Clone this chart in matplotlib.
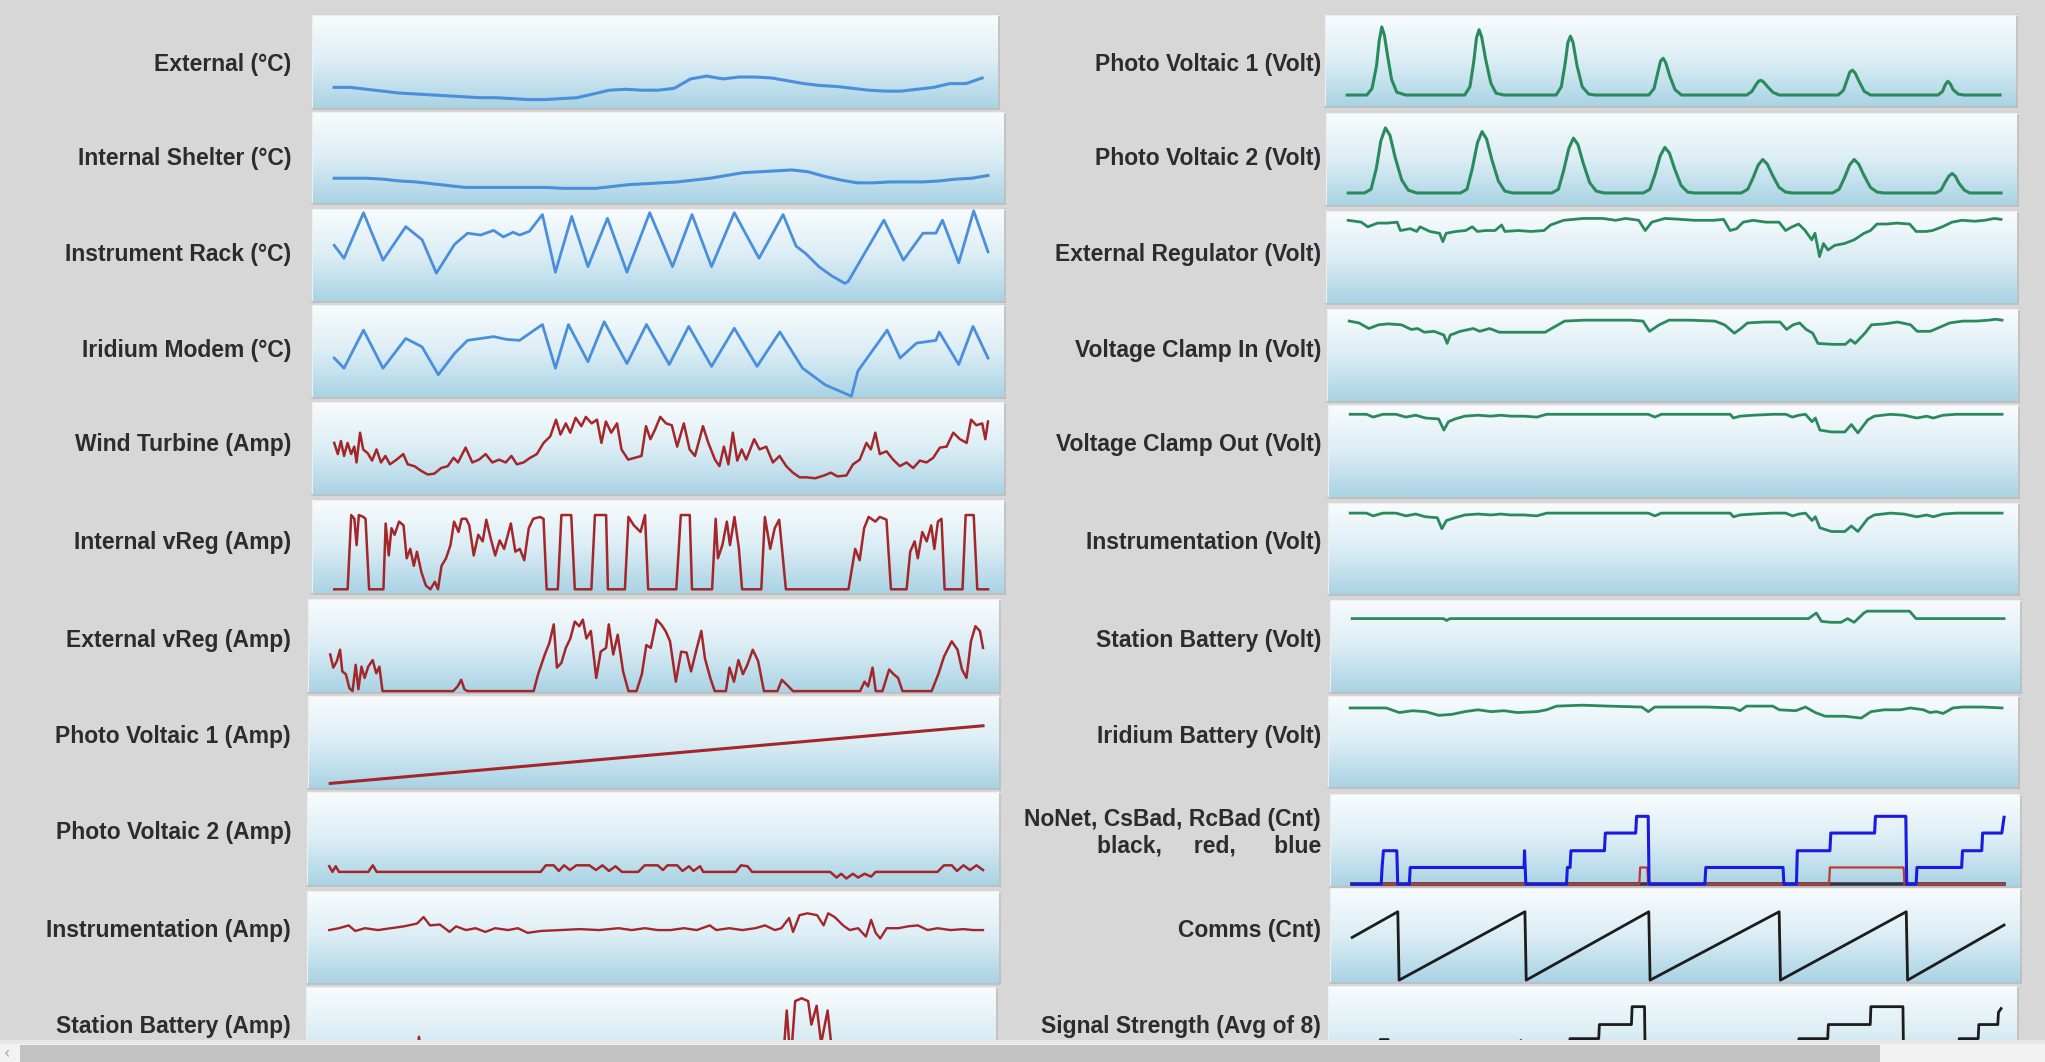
import numpy as np
import matplotlib
matplotlib.use("Agg")
import matplotlib.pyplot as plt
from matplotlib.patches import Rectangle

# ---------------- data (values in % of each sparkline's height) ----------------
ext_temp = [23,23,21,19,17,16,15,14,13,12,12,11,10,10,11,12,16,20,21,20,20,22,32,35,32,
            34,34,33,30,27,25,24,22,20,19,19,21,23,27,27,33]
shelter_temp = [28,28,28,27,25,24,22,20,18,18,18,18,18,18,17,17,17,19,21,22,23,24,26,28,31,
                34,35,36,37,35,30,26,23,23,24,24,24,25,27,28,31]

rack_t = [515,530,560,590,625,650,672,700,720,740,760,775,790,800,815,835,855,880,905,935,965,
          1000,1035,1065,1095,1130,1168,1205,1225,1240,1260,1280,1300,1305,1360,1390,1420,1440,
          1450,1475,1498,1520]
rack_v = [61,47,96,45,81,67,31,62,74,72,77,70,75,72,76,94,32,92,38,90,32,96,38,94,38,96,47,94,60,
          52,38,28,20,22,88,45,74,74,88,42,98,54]

modem_t = [515,530,560,590,625,650,675,700,720,740,760,780,800,835,855,875,905,930,965,995,1030,
           1060,1095,1130,1165,1200,1235,1270,1310,1320,1365,1385,1410,1440,1445,1475,1497,1520]
modem_v = [43,32,73,32,64,55,25,48,62,64,66,63,62,79,32,79,39,82,37,79,36,77,34,75,34,71,32,14,2,
           29,73,43,59,62,71,36,77,43]

wind_t = [50,58,65,72,80,88,95,100,108,115,125,135,145,155,165,175,190,205,215,230,245,260,275,
          290,305,318,328,345,360,375,390,405,420,435,448,460,475,490,505,520,535,548,558,570,580,
          592,605,615,628,640,650,660,672,685,695,710,725,740,750,760,770,782,795,808,820,835,848,
          860,878,890,905,915,925,935,945,955,965,975,993,1005,1020,1035,1050,1065,1080,1095,1110,
          1130,1150,1165,1180,1200,1215,1230,1245,1255,1265,1275,1290,1305,1320,1335,1350,1365,
          1380,1395,1410,1425,1440,1455,1470,1480,1492,1505,1512,1518]
wind_v = [56,44,58,42,56,44,52,35,67,49,45,37,49,35,42,33,38,44,33,31,26,22,23,29,31,40,35,51,35,
          38,44,35,38,35,42,33,35,40,44,56,63,81,65,77,67,83,74,84,77,81,56,79,67,77,49,38,40,42,74,
          60,70,84,77,75,52,77,49,42,74,56,38,31,52,33,67,37,49,38,60,49,52,35,42,31,24,19,19,18,21,
          24,20,21,33,38,56,49,67,44,47,38,31,35,29,37,35,40,51,52,67,60,56,81,75,77,60,79]

ivreg_t = [50,80,88,95,100,105,115,120,128,160,165,172,178,185,195,205,212,220,228,235,245,255,265,
           275,282,290,300,310,318,328,335,345,352,362,372,382,390,400,410,420,430,445,455,465,475,
           485,495,510,518,525,550,558,580,588,625,633,658,662,700,708,720,735,745,752,815,825,845,
           850,895,903,908,918,928,935,945,955,962,1005,1013,1025,1035,1045,1052,1060,1200,1215,
           1225,1235,1245,1260,1270,1285,1295,1330,1338,1348,1355,1365,1375,1385,1392,1400,1408,
           1415,1455,1462,1480,1488,1512]
ivreg_v = [5,5,84,80,52,84,82,80,5,5,75,41,70,63,77,73,38,48,30,45,23,9,5,13,5,30,38,52,77,66,80,
           80,73,41,63,56,79,59,41,57,48,75,45,48,36,70,80,82,80,5,5,84,84,5,5,84,84,5,5,82,73,66,84,
           5,5,84,84,5,5,80,38,52,77,52,82,48,5,5,82,48,70,79,45,5,5,48,36,70,82,77,82,79,5,5,45,56,
           38,66,56,73,48,77,80,5,5,84,84,5,5]

evreg_t = [55,62,70,77,82,90,98,105,112,118,125,132,140,150,158,165,172,330,340,348,355,362,510,520,
           535,545,555,562,572,582,592,602,612,620,628,638,650,660,672,678,688,698,710,722,740,752,
           762,772,785,795,805,815,828,840,852,862,875,885,893,905,915,940,948,958,968,978,988,1000,
           1012,1025,1055,1065,1080,1090,1240,1250,1258,1268,1275,1290,1305,1315,1325,1335,1400,
           1415,1428,1445,1458,1468,1478,1488,1498,1508,1515]
evreg_v = [41,27,34,46,23,20,5,2,30,4,28,16,28,35,21,28,2,2,7,14,4,2,2,20,41,53,73,27,32,48,58,76,71,
           78,58,66,16,44,48,73,41,62,23,2,2,20,51,48,78,73,66,55,12,44,43,23,48,66,37,16,2,2,27,12,35,
           20,30,46,34,2,2,14,7,2,2,12,7,27,2,2,25,20,16,2,2,20,39,55,46,25,16,55,71,66,48]

pv1_amp = [6, 68]

pv2a_t = [505,510,515,520,565,572,578,830,838,850,858,866,875,885,905,915,925,935,945,955,980,990,
          1010,1018,1025,1040,1048,1058,1065,1075,1080,1130,1138,1148,1155,1275,1285,1292,1300,
          1310,1318,1328,1338,1345,1440,1450,1462,1470,1480,1490,1500,1510]
pv2a_v = [21,15,21,15,15,22,15,15,22,22,16,22,17,22,22,17,22,16,21,15,15,22,22,17,22,22,16,21,16,
          21,15,15,22,21,15,15,9,13,8,13,9,13,10,15,15,22,22,16,22,17,22,17]

instr_a_t = [505,520,535,545,560,580,600,620,640,650,660,675,690,700,715,730,745,760,780,795,810,
             830,860,890,920,950,970,990,1010,1030,1050,1070,1090,1100,1120,1140,1160,1175,1190,
             1200,1212,1218,1228,1240,1255,1265,1272,1282,1295,1305,1318,1330,1338,1345,1352,1362,
             1380,1395,1410,1425,1440,1460,1480,1495,1510]
instr_a_v = [58,60,63,57,60,58,60,62,65,72,63,64,56,62,58,60,56,60,58,60,55,57,58,59,58,60,58,60,58,
             58,60,58,63,58,60,58,60,63,58,60,71,56,74,76,74,63,76,72,63,58,60,51,69,55,49,60,60,62,
             63,58,60,58,59,58,58]

sbat_a_t = [505,640,645,650,1205,1212,1218,1225,1235,1245,1250,1258,1265,1275,1282,1290,1510]
sbat_a_v = [10,10,47,10,10,75,20,85,88,85,60,80,40,75,30,10,10]

pv1v_t = [500,530,538,545,549,553,557,562,568,576,590,680,688,694,698,702,706,712,720,728,740,820,
          828,834,838,842,846,852,860,870,880,962,970,976,980,984,988,994,1002,1012,1112,1120,1126,
          1130,1134,1138,1144,1152,1162,1252,1260,1266,1270,1274,1278,1284,1292,1302,1405,1412,
          1416,1420,1424,1428,1436,1445,1500]
pv1v_v = [13,13,20,45,72,87,78,55,30,16,13,13,22,50,75,84,76,52,26,15,13,13,22,48,70,77,70,45,22,
          14,13,13,20,38,50,53,48,34,19,13,13,17,24,28,29,27,22,16,13,13,18,30,38,40,37,28,17,13,
          13,17,24,28,25,19,14,13,13]

pv2v_t = [500,525,535,543,550,557,564,572,582,592,605,672,682,690,698,705,712,720,730,740,752,812,
          822,830,838,845,852,860,870,880,892,952,962,970,978,985,992,1000,1010,1020,1030,1102,
          1112,1120,1128,1135,1142,1150,1160,1170,1180,1242,1252,1260,1268,1275,1282,1290,1300,
          1310,1320,1400,1408,1414,1420,1425,1430,1436,1444,1452,1500]
pv2v_v = [14,14,18,40,70,84,76,52,28,17,14,14,18,40,68,80,72,50,27,16,14,14,18,38,62,73,66,46,25,
          16,14,14,18,34,54,63,57,40,22,15,14,14,18,30,44,50,45,33,20,15,14,14,18,30,44,50,45,33,
          20,15,14,14,17,25,32,35,32,24,17,14,14]

extreg_t = [500,520,530,545,560,575,580,595,605,610,625,640,645,650,665,680,690,698,710,725,735,740,
            760,780,800,810,830,860,890,910,925,945,955,965,985,1010,1030,1060,1075,1085,1095,1105,
            1120,1140,1160,1170,1180,1190,1200,1210,1215,1222,1228,1235,1245,1260,1275,1290,1300,
            1310,1325,1340,1360,1370,1385,1395,1410,1425,1440,1460,1475,1490,1500]
extreg_v = [90,88,83,87,87,88,79,81,78,83,78,76,67,76,78,79,83,78,79,79,85,78,79,78,79,85,90,92,92,
            90,92,90,79,88,92,91,90,90,91,79,81,88,90,88,88,79,83,86,79,69,76,51,65,58,63,65,69,76,
            79,86,86,87,86,78,78,79,83,88,90,89,90,92,91]

clampin_t = [500,515,530,545,560,580,595,605,615,630,645,650,655,670,690,700,715,730,745,760,780,
             800,815,830,860,900,930,950,960,975,990,1020,1060,1075,1090,1100,1110,1135,1160,1170,
             1180,1190,1200,1210,1218,1240,1260,1268,1275,1290,1300,1320,1340,1360,1370,1390,1400,
             1420,1440,1460,1480,1490,1500]
clampin_v = [87,85,79,83,84,83,78,79,75,76,72,63,72,76,79,76,79,75,75,75,75,75,81,87,88,88,88,87,76,
             83,88,88,87,83,74,79,85,86,86,78,83,85,78,74,63,62,62,67,63,74,83,84,86,83,76,76,79,85,
             87,87,88,89,88]

clampout_t = [505,530,540,555,575,590,605,620,640,648,655,665,680,700,720,735,750,770,790,805,850,
              900,960,970,980,1000,1050,1085,1090,1100,1120,1150,1170,1180,1190,1200,1210,1215,
              1222,1240,1260,1270,1280,1295,1305,1330,1350,1370,1385,1395,1410,1430,1460,1500]
clampout_v = [90,90,87,90,90,87,89,86,85,73,82,85,88,89,88,89,88,88,87,90,90,90,90,87,90,90,90,90,86,
              88,89,90,90,87,89,90,82,86,73,71,71,79,70,84,88,90,89,86,88,86,89,90,90,90]

instr_v_t = [505,530,540,555,575,590,605,620,638,645,652,665,680,700,720,735,750,770,790,805,850,
             900,960,970,980,1000,1050,1085,1090,1100,1120,1150,1170,1180,1190,1200,1210,1215,1222,
             1240,1260,1270,1280,1295,1305,1330,1350,1370,1385,1395,1410,1430,1460,1500]
instr_v_v = [89,89,86,89,89,86,88,85,84,72,81,84,87,88,87,88,87,87,86,89,89,89,89,86,89,89,89,89,85,
             87,88,89,89,86,88,89,81,85,73,69,69,75,69,83,87,89,88,85,87,85,88,89,89,89]

sbat_v_t = [510,650,655,660,1210,1222,1230,1245,1260,1270,1280,1295,1300,1365,1375,1510]
sbat_v_v = [80,80,78,80,80,86,77,76,76,80,76,86,88,88,80,80]

irbat_t = [505,530,560,580,600,620,640,660,680,700,720,740,760,790,805,820,860,900,950,960,970,
           1000,1050,1090,1100,1110,1150,1160,1185,1200,1215,1230,1260,1285,1300,1320,1345,1360,
           1380,1390,1400,1410,1425,1440,1470,1500]
irbat_v = [87,87,87,82,84,83,79,80,83,85,83,84,82,83,85,89,90,89,88,83,88,88,88,87,84,89,89,85,84,
           88,82,78,78,76,83,85,85,87,85,82,83,81,87,88,88,87]

nonet_black_t = [55,1515]
nonet_black_v = [3,3]
nonet_red_t = [55,698,700,716,718,1123,1125,1290,1292,1515]
nonet_red_v = [3,3,21,21,3,3,21,21,3,3]
nonet_blue_t = [55,120,122,125,155,157,183,185,440,441,444,535,537,543,545,620,622,690,692,718,720,
                845,847,1020,1022,1050,1052,1125,1127,1225,1227,1295,1297,1318,1320,1420,1422,1465,
                1467,1510,1515]
nonet_blue_v = [3,3,21,39,39,3,3,21,21,39,3,3,21,21,39,39,58,58,76,76,3,3,21,21,3,3,39,39,58,58,76,
                76,3,3,21,21,39,39,58,58,75]

comms_t = [510,580,582,775,777,965,967,1165,1167,1360,1362,1510]
comms_v = [48,75,3,75,3,75,3,75,3,75,3,61]

signal_t = [510,555,556,568,569,770,771,773,845,846,890,891,940,941,960,961,1195,1196,1240,1241,
            1305,1306,1355,1356,1440,1441,1470,1471,1500,1501,1505]
signal_v = [20,20,43,43,20,20,42,20,20,44,44,59,59,78,78,20,20,44,44,59,59,78,78,20,20,44,44,59,59,
            72,76]

left_labels = ["External (°C)", "Internal Shelter (°C)", "Instrument Rack (°C)", "Iridium Modem (°C)",
               "Wind Turbine (Amp)", "Internal vReg (Amp)", "External vReg (Amp)",
               "Photo Voltaic 1 (Amp)", "Photo Voltaic 2 (Amp)", "Instrumentation (Amp)",
               "Station Battery (Amp)"]
right_labels = ["Photo Voltaic 1 (Volt)", "Photo Voltaic 2 (Volt)", "External Regulator (Volt)",
                "Voltage Clamp In (Volt)", "Voltage Clamp Out (Volt)", "Instrumentation (Volt)",
                "Station Battery (Volt)", "Iridium Battery (Volt)",
                "NoNet, CsBad, RcBad (Cnt)\nblack,     red,      blue", "Comms (Cnt)",
                "Signal Strength (Avg of 8)"]

# ---------------- layout / style ----------------
W, H = 2045, 1062
BG = "#d7d7d7"
BLUE = "#4a8fdb"
RED = "#a3262a"
GREEN = "#2b8a5c"
BLACK = "#1c1c1c"

LEFT_BOXES = [(312, 15, 999, 109), (312, 112, 1005, 204), (312, 209, 1005, 302), (312, 305, 1005, 398),
              (312, 402, 1005, 495), (312, 500, 1005, 594), (308, 599, 1000, 693), (308, 696, 1000, 789),
              (307, 792, 1000, 886), (307, 891, 1000, 984), (306, 987, 997, 1081)]
RIGHT_BOXES = [(1325, 15, 2017, 107), (1326, 113, 2018, 206), (1326, 211, 2018, 304), (1327, 309, 2019, 402),
               (1328, 405, 2019, 498), (1328, 503, 2019, 595), (1330, 600, 2021, 693), (1328, 696, 2019, 788),
               (1330, 794, 2021, 887), (1330, 888, 2021, 983), (1328, 986, 2018, 1080)]
LABEL_Y = [64, 159, 254, 350, 445, 542, 640, 736, 833, 931, 1026]
RIGHT_LABEL_Y = [64, 159, 254, 350, 445, 542, 640, 736, 833, 931, 1026]
LEFT_LABEL_X = 291
RIGHT_LABEL_X = 1321

fig = plt.figure(figsize=(W / 100, H / 100), dpi=100)
fig.patch.set_facecolor(BG)

top = np.array([0.975, 0.988, 0.995])
mid = np.array([0.86, 0.93, 0.96])
bot = np.array([0.66, 0.825, 0.895])
ramp = np.linspace(0, 1, 200)[:, None]
grad = np.where(ramp < 0.5, top + (mid - top) * (ramp / 0.5), mid + (bot - mid) * ((ramp - 0.5) / 0.5))
grad = grad[:, None, :]


def norm(t):
    t = np.asarray(t, dtype=float)
    return (t - t[0]) / (t[-1] - t[0])


def make_panel(box, label, label_x, label_y, lines):
    x0, y0, x1, y1 = box
    ax = fig.add_axes([x0 / W, 1 - y1 / H, (x1 - x0) / W, (y1 - y0) / H])
    ax.imshow(grad, extent=[0, 1, 0, 1], transform=ax.transAxes, aspect="auto",
              interpolation="bilinear", zorder=0)
    for x, y, c, lw in lines:
        ax.plot(x, y, color=c, lw=lw, solid_joinstyle="round", zorder=3)
    ax.set_xlim(-0.034, 1.026)
    ax.set_ylim(0, 100)
    ax.set_xticks([])
    ax.set_yticks([])
    for s in ["top", "left"]:
        ax.spines[s].set_color("#eeeeee")
        ax.spines[s].set_linewidth(0.8)
    for s in ["bottom", "right"]:
        ax.spines[s].set_color("#bdbdbd")
        ax.spines[s].set_linewidth(1.2)
    fig.text(label_x / W, 1 - label_y / H, label, ha="right", va="center", multialignment="right",
             fontsize=16.5, fontweight="bold", color="#2c2c2c",
             family=["Liberation Sans", "DejaVu Sans"], linespacing=1.2)
    return ax


def eq(v):
    return np.linspace(0, 1, len(v)), v


left_series = [
    [(*eq(ext_temp), BLUE, 2.2)],
    [(*eq(shelter_temp), BLUE, 2.2)],
    [(norm(rack_t), rack_v, BLUE, 2.0)],
    [(norm(modem_t), modem_v, BLUE, 2.0)],
    [(norm(wind_t), wind_v, RED, 1.8)],
    [(norm(ivreg_t), ivreg_v, RED, 1.8)],
    [(norm(evreg_t), evreg_v, RED, 1.8)],
    [(*eq(pv1_amp), RED, 2.2)],
    [(norm(pv2a_t), pv2a_v, RED, 1.8)],
    [(norm(instr_a_t), instr_a_v, RED, 1.7)],
    [(norm(sbat_a_t), sbat_a_v, RED, 1.8)],
]
right_series = [
    [(norm(pv1v_t), pv1v_v, GREEN, 2.2)],
    [(norm(pv2v_t), pv2v_v, GREEN, 2.2)],
    [(norm(extreg_t), extreg_v, GREEN, 2.0)],
    [(norm(clampin_t), clampin_v, GREEN, 2.0)],
    [(norm(clampout_t), clampout_v, GREEN, 2.0)],
    [(norm(instr_v_t), instr_v_v, GREEN, 2.0)],
    [(norm(sbat_v_t), sbat_v_v, GREEN, 2.0)],
    [(norm(irbat_t), irbat_v, GREEN, 2.0)],
    [(norm(nonet_black_t), nonet_black_v, "#333344", 2.6),
     (norm(nonet_red_t), nonet_red_v, "#c0392f", 1.6),
     (norm(nonet_blue_t), nonet_blue_v, "#1a1ae0", 2.2)],
    [(norm(comms_t), comms_v, BLACK, 2.0)],
    [(norm(signal_t), signal_v, BLACK, 2.0)],
]

for box, lab, ly, ser in zip(LEFT_BOXES, left_labels, LABEL_Y, left_series):
    make_panel(box, lab, LEFT_LABEL_X, ly, ser)
for box, lab, ly, ser in zip(RIGHT_BOXES, right_labels, RIGHT_LABEL_Y, right_series):
    make_panel(box, lab, RIGHT_LABEL_X, ly, ser)

# horizontal scrollbar at the bottom of the screenshot
sb = fig.add_axes([0, 0, 1, 22 / H], zorder=20)
sb.set_xlim(0, W)
sb.set_ylim(0, 22)
sb.axis("off")
sb.add_patch(Rectangle((0, 0), W, 22, facecolor="#f2f2f2", edgecolor="none"))
sb.add_patch(Rectangle((0, 18), W, 4, facecolor="#e6e6e6", edgecolor="none"))
sb.add_patch(Rectangle((20, 0), 1860, 17, facecolor="#c2c2c2", edgecolor="none"))
sb.text(4, 8, "‹", fontsize=11, color="#9a9a9a", va="center", ha="left")

fig.savefig("out.png", dpi=100, facecolor=BG)
